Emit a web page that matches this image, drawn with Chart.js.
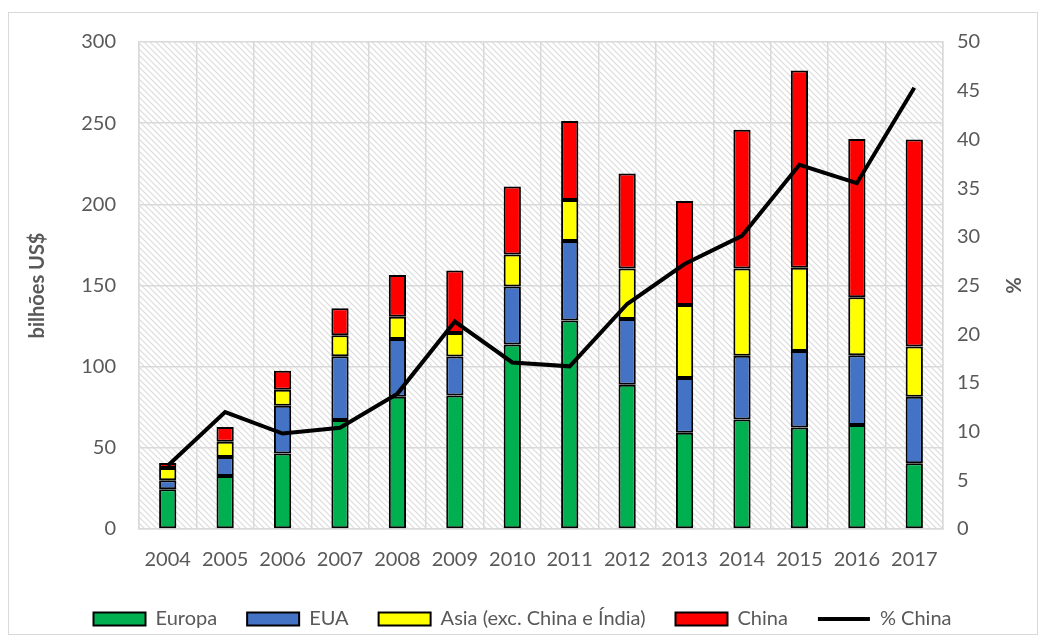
<!DOCTYPE html>
<html>
<head>
<meta charset="utf-8">
<script src="https://cdn.jsdelivr.net/npm/chart.js@4.4.0/dist/chart.umd.min.js"></script>
<style>
  html, body { margin: 0; padding: 0; background: #fff; }
  #wrap { width: 1045px; height: 643px; position: relative; }
</style>
</head>
<body>
<div id="wrap"><canvas id="chart" width="1045" height="643"></canvas></div>
<script>
// Investimento por origem (bilhões US$) e participação da China (%)
const years = ['2004', '2005', '2006', '2007', '2008', '2009', '2010', '2011', '2012', '2013', '2014', '2015', '2016', '2017'];
const europa = [24.5, 32.7, 46.5, 67.1, 81.5, 82.3, 113.6, 128.4, 88.9, 59.3, 67.5, 62.6, 64.0, 40.5];
const eua = [5.5, 11.7, 29.4, 39.3, 35.6, 23.9, 35.8, 49.0, 40.5, 33.7, 39.3, 47.1, 43.0, 41.0];
const asia = [7.6, 9.3, 9.9, 12.9, 13.6, 14.6, 19.7, 25.3, 31.1, 45.0, 53.7, 51.2, 35.8, 31.0];
const china = [3.1, 9.1, 11.7, 16.7, 25.7, 38.5, 41.9, 48.7, 58.5, 64.0, 85.4, 121.6, 97.5, 127.4];
const pctChina = [6.5, 12.0, 9.8, 10.4, 13.9, 21.3, 17.1, 16.7, 23.1, 27.2, 30.1, 37.4, 35.5, 45.3];

const leftTicks = [0, 50, 100, 150, 200, 250, 300];
const rightTicks = [0, 5, 10, 15, 20, 25, 30, 35, 40, 45, 50];

const TEXT = '#595959';
const GRID = '#d9d9d9';
const FONT = 'Lato, "Open Sans", sans-serif';

// fundo hachurado da área do gráfico
function makeHatch() {
  const c = document.createElement('canvas');
  c.width = 6; c.height = 6;
  const g = c.getContext('2d');
  g.fillStyle = '#ffffff';
  g.fillRect(0, 0, 6, 6);
  g.strokeStyle = '#dcdcdc';
  g.lineWidth = 1.2;
  g.beginPath();
  g.moveTo(-1, -1); g.lineTo(7, 7);
  g.moveTo(-4, 2); g.lineTo(4, 10);
  g.moveTo(2, -4); g.lineTo(10, 4);
  g.stroke();
  return c;
}

const backgroundPlugin = {
  id: 'hatchBg',
  beforeDraw(chart) {
    const { ctx, chartArea: a } = chart;
    ctx.save();
    ctx.fillStyle = '#fff';
    ctx.fillRect(0, 0, chart.width, chart.height);
    ctx.fillStyle = ctx.createPattern(makeHatch(), 'repeat');
    ctx.fillRect(a.left, a.top, a.right - a.left, a.bottom - a.top);
    // moldura externa
    ctx.strokeStyle = GRID;
    ctx.lineWidth = 1;
    ctx.strokeRect(8.5, 12.5, 1029, 622);
    ctx.restore();
  }
};

function barSet(label, data, color) {
  return {
    type: 'bar',
    label: label,
    data: data,
    backgroundColor: color,
    borderColor: '#000',
    borderWidth: 2,
    borderSkipped: false,
    barPercentage: 0.6,
    categoryPercentage: 0.5,
    yAxisID: 'y',
    order: 1
  };
}

const datasets = [
  barSet('Europa', europa, '#00b050'),
  barSet('EUA', eua, '#4472c4'),
  barSet('Asia (exc. China e Índia)', asia, '#ffff00'),
  barSet('China', china, '#ff0000'),
  {
    type: 'line',
    label: '% China',
    data: pctChina,
    borderColor: '#000',
    backgroundColor: '#000',
    borderWidth: 4,
    pointRadius: 0,
    tension: 0,
    yAxisID: 'y1',
    order: 0
  }
];

new Chart(document.getElementById('chart'), {
  data: { labels: years, datasets: datasets },
  plugins: [backgroundPlugin],
  options: {
    responsive: false,
    animation: false,
    layout: { padding: { top: 42, left: 0, right: 0, bottom: 4 } },
    plugins: {
      tooltip: { enabled: false },
      legend: {
        position: 'bottom',
        labels: {
          color: TEXT,
          font: { family: FONT, size: 20 },
          usePointStyle: true,
          pointStyleWidth: 52,
          boxHeight: 13,
          padding: 30,
          sort: (a, b) => a.datasetIndex - b.datasetIndex,
          generateLabels(chart) {
            const items = Chart.defaults.plugins.legend.labels.generateLabels(chart);
            items.forEach(it => {
              const isLine = it.datasetIndex === 4;
              it.pointStyle = isLine ? 'line' : 'rect';
              it.lineWidth = isLine ? 4 : 2;
              it.strokeStyle = '#000';
            });
            return items;
          }
        }
      }
    },
    scales: {
      x: {
        stacked: true,
        grid: { color: GRID, lineWidth: 1.5, offset: true, drawTicks: false },
        border: { color: GRID, width: 1.5 },
        ticks: { color: TEXT, font: { family: FONT, size: 20 }, padding: 19 },
        afterFit(s) { s.height = 50; }
      },
      y: {
        stacked: true,
        position: 'left',
        min: 0, max: 300,
        afterBuildTicks(s) { s.ticks = leftTicks.map(v => ({ value: v })); },
        grid: { color: GRID, lineWidth: 1.5, drawTicks: false },
        border: { color: GRID, width: 1.5 },
        ticks: { color: TEXT, font: { family: FONT, size: 20 }, padding: 23 },
        title: {
          display: true,
          text: 'bilhões US$',
          color: TEXT,
          padding: { top: 26, bottom: 0 },
          font: { family: FONT, size: 20, weight: 'bold' }
        },
        afterFit(s) { s.width = 139; }
      },
      y1: {
        position: 'right',
        min: 0, max: 50,
        afterBuildTicks(s) { s.ticks = rightTicks.map(v => ({ value: v })); },
        grid: { display: false, drawTicks: false },
        border: { color: GRID, width: 1.5 },
        ticks: { color: TEXT, font: { family: FONT, size: 20 }, padding: 14 },
        title: {
          display: true,
          text: '%',
          color: TEXT,
          padding: { top: 21, bottom: 0 },
          font: { family: FONT, size: 20, weight: 'bold' }
        },
        afterFit(s) { s.width = 102; }
      }
    }
  }
});
</script>
</body>
</html>
